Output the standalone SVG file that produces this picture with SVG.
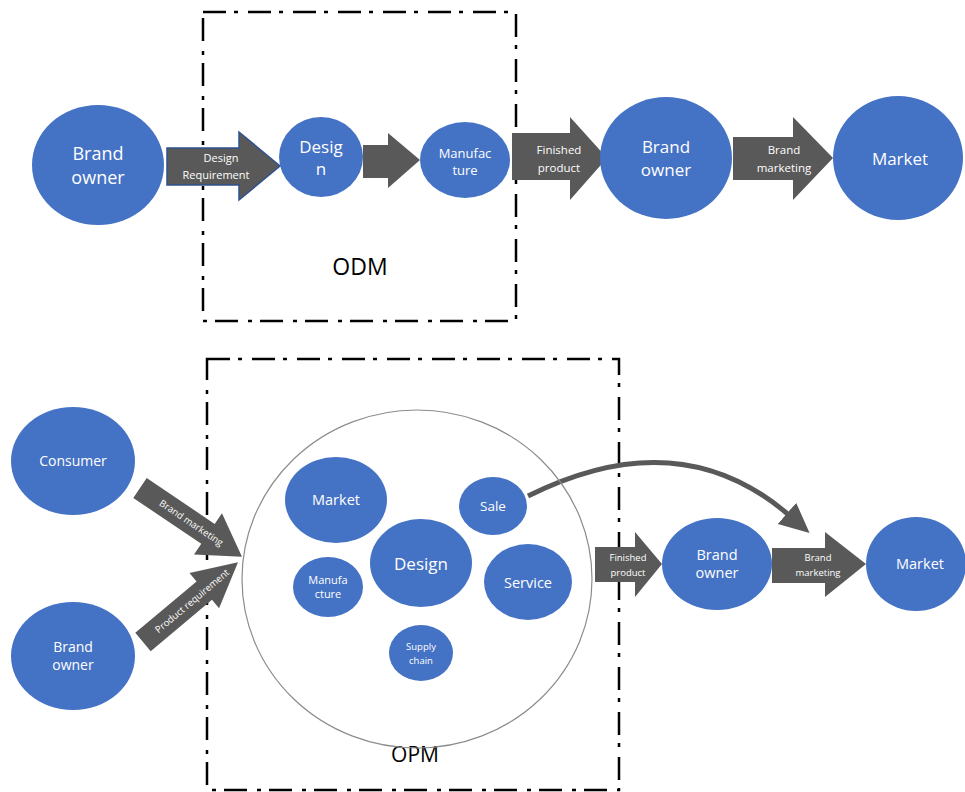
<svg xmlns="http://www.w3.org/2000/svg" width="965" height="792" viewBox="0 0 965 792">
<style>
.n{fill:#4472C4}
.t{fill:#fff;font-family:"Open Sans","Liberation Sans",sans-serif;text-anchor:middle}
.a{fill:#595959}
.at{fill:#fff;font-family:"Open Sans","Liberation Sans",sans-serif;text-anchor:middle}
.box{fill:none;stroke:#000;stroke-width:2.5;stroke-dasharray:23 8 4 10}
.lbl{fill:#000;font-family:"Open Sans","Liberation Sans",sans-serif;text-anchor:middle}
</style>
<defs>
<marker id="hd" markerUnits="userSpaceOnUse" markerWidth="40" markerHeight="40" refX="4" refY="14" orient="auto">
<polygon points="0,0 30,14 0,28" fill="#595959"/>
</marker>
</defs>
<rect width="965" height="792" fill="#fff"/>

<g id="odm-box">
<rect class="box" x="203" y="12" width="313" height="309"/>
<text class="lbl" x="360" y="275" font-size="23">ODM</text>
</g>
<g id="opm-box">
<rect class="box" x="207" y="359" width="412" height="431"/>
<text class="lbl" x="415" y="762" font-size="21">OPM</text>
</g>

<g id="connectors">
<polygon class="a" stroke="#2F528F" stroke-width="1.5" points="167,148 239,148 239,132 280,166 239,200 239,185 167,185"/>
<text class="at" x="221" y="162" font-size="11">Design</text>
<text class="at" x="216" y="179" font-size="11">Requirement</text>
<polygon class="a" points="363,145 388,145 388,133 420,160 388,188 388,178 363,178"/>
<polygon class="a" points="512,133 570,133 570,117 607,158 570,200 570,180 512,180"/>
<text class="at" x="559" y="154" font-size="11.5">Finished</text>
<text class="at" x="559" y="172" font-size="11.5">product</text>
<polygon class="a" points="733,137 793,137 793,117 833,158 793,200 793,180 733,180"/>
<text class="at" x="784" y="154" font-size="11.5">Brand</text>
<text class="at" x="784" y="172" font-size="11.5">marketing</text>

<g transform="translate(140,488) rotate(34)">
<polygon class="a" points="0,-12 82,-12 82,-25 123,0 82,25 82,12 0,12"/>
<text class="at" x="62" y="3.5" font-size="9.5">Brand marketing</text>
</g>
<g transform="translate(143,642) rotate(-40)">
<polygon class="a" points="0,-12 80,-12 80,-23 124,0 80,23 80,12 0,12"/>
<text class="at" x="64" y="3.5" font-size="9.5">Product requirement</text>
</g>

<polygon class="a" points="595,547 635,547 635,532 662,564 635,597 635,582 595,582"/>
<text class="at" x="628" y="561" font-size="9.5">Finished</text>
<text class="at" x="628" y="576" font-size="9.5">product</text>
<polygon class="a" points="772,548 825,548 825,532 866,564 825,597 825,583 772,583"/>
<text class="at" x="818" y="561" font-size="9.5">Brand</text>
<text class="at" x="818" y="576" font-size="9.5">marketing</text>

<path d="M528,496 Q680,420 790,516" fill="none" stroke="#595959" stroke-width="5" marker-end="url(#hd)"/>
</g>

<g id="n-brand-owner-1"><ellipse class="n" cx="98" cy="165" rx="66" ry="60"/><text class="t" x="98" y="160" font-size="18">Brand</text><text class="t" x="98" y="184" font-size="18">owner</text></g>
<g id="n-design-1"><ellipse class="n" cx="321" cy="157" rx="42" ry="40"/><text class="t" x="321" y="153" font-size="17">Desig</text><text class="t" x="321" y="175" font-size="17">n</text></g>
<g id="n-manufacture-1"><ellipse class="n" cx="465" cy="160" rx="45" ry="38"/><text class="t" x="465" y="158" font-size="13">Manufac</text><text class="t" x="465" y="175" font-size="13">ture</text></g>
<g id="n-brand-owner-2"><ellipse class="n" cx="666" cy="158" rx="66" ry="61"/><text class="t" x="666" y="153" font-size="17">Brand</text><text class="t" x="666" y="176" font-size="17">owner</text></g>
<g id="n-market-1"><ellipse class="n" cx="898" cy="158" rx="65" ry="62"/><text class="t" x="900" y="165" font-size="17">Market</text></g>

<g id="n-consumer"><ellipse class="n" cx="73" cy="461" rx="62" ry="54"/><text class="t" x="73" y="466" font-size="14">Consumer</text></g>
<g id="n-brand-owner-3"><ellipse class="n" cx="73" cy="656" rx="62" ry="54"/><text class="t" x="73" y="652" font-size="14">Brand</text><text class="t" x="73" y="670" font-size="14">owner</text></g>

<g id="n-opm"><ellipse cx="417" cy="579" rx="175" ry="169" fill="none" stroke="#8c8c8c" stroke-width="1.2"/></g>
<g id="n-market-2"><ellipse class="n" cx="336" cy="500" rx="51" ry="43"/><text class="t" x="336" y="505" font-size="14.5">Market</text></g>
<g id="n-sale"><ellipse class="n" cx="493" cy="506" rx="34" ry="29"/><text class="t" x="493" y="511" font-size="13.5">Sale</text></g>
<g id="n-design-2"><ellipse class="n" cx="421" cy="563" rx="51" ry="44"/><text class="t" x="421" y="570" font-size="17">Design</text></g>
<g id="n-manufacture-2"><ellipse class="n" cx="328" cy="587" rx="35" ry="30"/><text class="t" x="328" y="584" font-size="11">Manufa</text><text class="t" x="328" y="598" font-size="11">cture</text></g>
<g id="n-service"><ellipse class="n" cx="528" cy="582" rx="44" ry="38"/><text class="t" x="528" y="588" font-size="14.5">Service</text></g>
<g id="n-supply-chain"><ellipse class="n" cx="421" cy="653" rx="32" ry="28"/><text class="t" x="421" y="650" font-size="9.5">Supply</text><text class="t" x="421" y="664" font-size="9.5">chain</text></g>
<g id="n-brand-owner-4"><ellipse class="n" cx="717" cy="564" rx="55" ry="46"/><text class="t" x="717" y="560" font-size="14.5">Brand</text><text class="t" x="717" y="578" font-size="14.5">owner</text></g>
<g id="n-market-3"><ellipse class="n" cx="916" cy="564" rx="50" ry="47"/><text class="t" x="920" y="569" font-size="14.5">Market</text></g>
</svg>
